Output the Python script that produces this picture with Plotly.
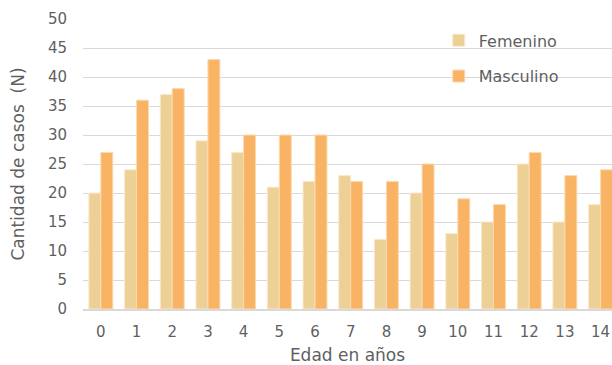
import plotly.graph_objects as go

edades = [str(i) for i in range(15)]
femenino = [20, 24, 37, 29, 27, 21, 22, 23, 12, 20, 13, 15, 25, 15, 18]
masculino = [27, 36, 38, 43, 30, 30, 30, 22, 22, 25, 19, 18, 27, 23, 24]

FONT = "DejaVu Sans"
TXT = "#5f5f5f"

fig = go.Figure()
fig.add_trace(go.Bar(x=edades, y=femenino, name="Femenino", legendgroup="f",
                     marker=dict(color="#EDD095", line=dict(color="#FBE8CC", width=1))))
fig.add_trace(go.Bar(x=edades, y=masculino, name="Masculino", legendgroup="m",
                     marker=dict(color="#F8B464", line=dict(color="#FCD9AE", width=1))))

fig.add_shape(type="rect", xref="paper", yref="paper", x0=0.622, x1=0.974, y0=0.72, y1=0.975,
              fillcolor="white", line=dict(width=0), layer="between")

fig.update_layout(
    width=612, height=365,
    margin=dict(l=83, r=0, t=19, b=56),
    paper_bgcolor="white", plot_bgcolor="white",
    font=dict(family=FONT, color=TXT, size=15),
    barmode="group", bargap=0.33, bargroupgap=0,
    showlegend=True,
    legend=dict(x=0.6725, y=0.985, xanchor="left", yanchor="top", bgcolor="rgba(0,0,0,0)",
                font=dict(size=16, color=TXT), traceorder="grouped", tracegroupgap=12),
    xaxis=dict(title=dict(text="Edad en años", font=dict(size=17, color=TXT), standoff=13),
               range=[-0.5, 14.32], showgrid=False, showline=True, linecolor="#D9D9D9",
               linewidth=1.5, ticks="outside", ticklen=8, tickcolor="rgba(0,0,0,0)",
               tickfont=dict(size=15, color=TXT)),
    yaxis=dict(title=dict(text="Cantidad de casos  (N)", font=dict(size=17, color=TXT), standoff=18),
               range=[0, 50], dtick=5, showgrid=True, gridcolor="#D9D9D9", gridwidth=1,
               zeroline=False, showline=False, ticks="outside", ticklen=12,
               tickcolor="rgba(0,0,0,0)", tickfont=dict(size=15, color=TXT)),
)

fig.write_html("out.html", config={"displayModeBar": False},
               post_script="document.body.style.margin='0';")
